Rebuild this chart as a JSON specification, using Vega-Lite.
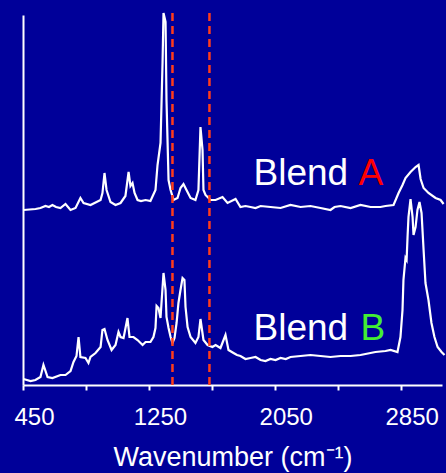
{
  "$schema": "https://vega.github.io/schema/vega-lite/v6.json",
  "autosize": "none",
  "width": 419,
  "height": 370,
  "padding": {"left": 23, "top": 15, "right": 4, "bottom": 88},
  "background": "#000099",
  "config": {"view": {"stroke": null}, "font": "Liberation Sans"},
  "datasets": {
    "spectra": [
      {"series": "A", "wavenumber": 453, "intensity": 175},
      {"series": "A", "wavenumber": 530, "intensity": 176},
      {"series": "A", "wavenumber": 561, "intensity": 177},
      {"series": "A", "wavenumber": 593, "intensity": 179},
      {"series": "A", "wavenumber": 615, "intensity": 178},
      {"series": "A", "wavenumber": 637, "intensity": 180},
      {"series": "A", "wavenumber": 660, "intensity": 178},
      {"series": "A", "wavenumber": 688, "intensity": 177},
      {"series": "A", "wavenumber": 720, "intensity": 181},
      {"series": "A", "wavenumber": 752, "intensity": 175},
      {"series": "A", "wavenumber": 784, "intensity": 177},
      {"series": "A", "wavenumber": 815, "intensity": 187},
      {"series": "A", "wavenumber": 835, "intensity": 182},
      {"series": "A", "wavenumber": 879, "intensity": 180},
      {"series": "A", "wavenumber": 943, "intensity": 185},
      {"series": "A", "wavenumber": 955, "intensity": 192},
      {"series": "A", "wavenumber": 968, "intensity": 212},
      {"series": "A", "wavenumber": 981, "intensity": 195},
      {"series": "A", "wavenumber": 1006, "intensity": 183},
      {"series": "A", "wavenumber": 1038, "intensity": 180},
      {"series": "A", "wavenumber": 1070, "intensity": 182},
      {"series": "A", "wavenumber": 1101, "intensity": 189},
      {"series": "A", "wavenumber": 1121, "intensity": 213},
      {"series": "A", "wavenumber": 1133, "intensity": 199},
      {"series": "A", "wavenumber": 1146, "intensity": 202},
      {"series": "A", "wavenumber": 1159, "intensity": 192},
      {"series": "A", "wavenumber": 1178, "intensity": 185},
      {"series": "A", "wavenumber": 1200, "intensity": 184},
      {"series": "A", "wavenumber": 1229, "intensity": 185},
      {"series": "A", "wavenumber": 1260, "intensity": 184},
      {"series": "A", "wavenumber": 1292, "intensity": 195},
      {"series": "A", "wavenumber": 1305, "intensity": 220},
      {"series": "A", "wavenumber": 1324, "intensity": 242},
      {"series": "A", "wavenumber": 1337, "intensity": 323},
      {"series": "A", "wavenumber": 1343, "intensity": 372},
      {"series": "A", "wavenumber": 1356, "intensity": 363},
      {"series": "A", "wavenumber": 1362, "intensity": 285},
      {"series": "A", "wavenumber": 1375, "intensity": 205},
      {"series": "A", "wavenumber": 1388, "intensity": 195},
      {"series": "A", "wavenumber": 1407, "intensity": 185},
      {"series": "A", "wavenumber": 1432, "intensity": 187},
      {"series": "A", "wavenumber": 1451, "intensity": 197},
      {"series": "A", "wavenumber": 1470, "intensity": 201},
      {"series": "A", "wavenumber": 1489, "intensity": 195},
      {"series": "A", "wavenumber": 1515, "intensity": 187},
      {"series": "A", "wavenumber": 1546, "intensity": 185},
      {"series": "A", "wavenumber": 1565, "intensity": 195},
      {"series": "A", "wavenumber": 1578, "intensity": 258},
      {"series": "A", "wavenumber": 1591, "intensity": 235},
      {"series": "A", "wavenumber": 1597, "intensity": 195},
      {"series": "A", "wavenumber": 1610, "intensity": 190},
      {"series": "A", "wavenumber": 1642, "intensity": 185},
      {"series": "A", "wavenumber": 1674, "intensity": 185},
      {"series": "A", "wavenumber": 1718, "intensity": 188},
      {"series": "A", "wavenumber": 1750, "intensity": 182},
      {"series": "A", "wavenumber": 1801, "intensity": 186},
      {"series": "A", "wavenumber": 1832, "intensity": 178},
      {"series": "A", "wavenumber": 1864, "intensity": 179},
      {"series": "A", "wavenumber": 1896, "intensity": 178},
      {"series": "A", "wavenumber": 1928, "intensity": 177},
      {"series": "A", "wavenumber": 1960, "intensity": 179},
      {"series": "A", "wavenumber": 2023, "intensity": 178},
      {"series": "A", "wavenumber": 2087, "intensity": 177},
      {"series": "A", "wavenumber": 2150, "intensity": 180},
      {"series": "A", "wavenumber": 2214, "intensity": 178},
      {"series": "A", "wavenumber": 2277, "intensity": 179},
      {"series": "A", "wavenumber": 2341, "intensity": 177},
      {"series": "A", "wavenumber": 2404, "intensity": 175},
      {"series": "A", "wavenumber": 2430, "intensity": 178},
      {"series": "A", "wavenumber": 2468, "intensity": 179},
      {"series": "A", "wavenumber": 2532, "intensity": 177},
      {"series": "A", "wavenumber": 2595, "intensity": 180},
      {"series": "A", "wavenumber": 2659, "intensity": 178},
      {"series": "A", "wavenumber": 2722, "intensity": 178},
      {"series": "A", "wavenumber": 2754, "intensity": 179},
      {"series": "A", "wavenumber": 2805, "intensity": 180},
      {"series": "A", "wavenumber": 2837, "intensity": 192},
      {"series": "A", "wavenumber": 2862, "intensity": 200},
      {"series": "A", "wavenumber": 2881, "intensity": 207},
      {"series": "A", "wavenumber": 2913, "intensity": 213},
      {"series": "A", "wavenumber": 2945, "intensity": 218},
      {"series": "A", "wavenumber": 2964, "intensity": 220},
      {"series": "A", "wavenumber": 2977, "intensity": 206},
      {"series": "A", "wavenumber": 2996, "intensity": 197},
      {"series": "A", "wavenumber": 3027, "intensity": 192},
      {"series": "A", "wavenumber": 3072, "intensity": 187},
      {"series": "A", "wavenumber": 3104, "intensity": 185},
      {"series": "A", "wavenumber": 3123, "intensity": 181},
      {"series": "B", "wavenumber": 453, "intensity": 6},
      {"series": "B", "wavenumber": 498, "intensity": 4},
      {"series": "B", "wavenumber": 529, "intensity": 5},
      {"series": "B", "wavenumber": 561, "intensity": 8},
      {"series": "B", "wavenumber": 580, "intensity": 20},
      {"series": "B", "wavenumber": 606, "intensity": 8},
      {"series": "B", "wavenumber": 637, "intensity": 7},
      {"series": "B", "wavenumber": 688, "intensity": 10},
      {"series": "B", "wavenumber": 720, "intensity": 10},
      {"series": "B", "wavenumber": 752, "intensity": 14},
      {"series": "B", "wavenumber": 771, "intensity": 23},
      {"series": "B", "wavenumber": 790, "intensity": 29},
      {"series": "B", "wavenumber": 803, "intensity": 48},
      {"series": "B", "wavenumber": 815, "intensity": 28},
      {"series": "B", "wavenumber": 847, "intensity": 27},
      {"series": "B", "wavenumber": 866, "intensity": 22},
      {"series": "B", "wavenumber": 879, "intensity": 28},
      {"series": "B", "wavenumber": 911, "intensity": 32},
      {"series": "B", "wavenumber": 943, "intensity": 38},
      {"series": "B", "wavenumber": 955, "intensity": 55},
      {"series": "B", "wavenumber": 968, "intensity": 56},
      {"series": "B", "wavenumber": 987, "intensity": 45},
      {"series": "B", "wavenumber": 1013, "intensity": 35},
      {"series": "B", "wavenumber": 1038, "intensity": 40},
      {"series": "B", "wavenumber": 1057, "intensity": 53},
      {"series": "B", "wavenumber": 1070, "intensity": 48},
      {"series": "B", "wavenumber": 1089, "intensity": 47},
      {"series": "B", "wavenumber": 1114, "intensity": 67},
      {"series": "B", "wavenumber": 1127, "intensity": 48},
      {"series": "B", "wavenumber": 1152, "intensity": 48},
      {"series": "B", "wavenumber": 1178, "intensity": 45},
      {"series": "B", "wavenumber": 1210, "intensity": 40},
      {"series": "B", "wavenumber": 1229, "intensity": 43},
      {"series": "B", "wavenumber": 1260, "intensity": 43},
      {"series": "B", "wavenumber": 1279, "intensity": 48},
      {"series": "B", "wavenumber": 1292, "intensity": 57},
      {"series": "B", "wavenumber": 1299, "intensity": 79},
      {"series": "B", "wavenumber": 1311, "intensity": 77},
      {"series": "B", "wavenumber": 1324, "intensity": 67},
      {"series": "B", "wavenumber": 1343, "intensity": 112},
      {"series": "B", "wavenumber": 1356, "intensity": 95},
      {"series": "B", "wavenumber": 1362, "intensity": 68},
      {"series": "B", "wavenumber": 1375, "intensity": 57},
      {"series": "B", "wavenumber": 1388, "intensity": 48},
      {"series": "B", "wavenumber": 1400, "intensity": 42},
      {"series": "B", "wavenumber": 1413, "intensity": 47},
      {"series": "B", "wavenumber": 1426, "intensity": 62},
      {"series": "B", "wavenumber": 1438, "intensity": 82},
      {"series": "B", "wavenumber": 1451, "intensity": 95},
      {"series": "B", "wavenumber": 1464, "intensity": 107},
      {"series": "B", "wavenumber": 1476, "intensity": 105},
      {"series": "B", "wavenumber": 1483, "intensity": 78},
      {"series": "B", "wavenumber": 1496, "intensity": 58},
      {"series": "B", "wavenumber": 1515, "intensity": 48},
      {"series": "B", "wavenumber": 1546, "intensity": 42},
      {"series": "B", "wavenumber": 1565, "intensity": 48},
      {"series": "B", "wavenumber": 1578, "intensity": 66},
      {"series": "B", "wavenumber": 1597, "intensity": 45},
      {"series": "B", "wavenumber": 1623, "intensity": 40},
      {"series": "B", "wavenumber": 1654, "intensity": 38},
      {"series": "B", "wavenumber": 1674, "intensity": 40},
      {"series": "B", "wavenumber": 1705, "intensity": 37},
      {"series": "B", "wavenumber": 1737, "intensity": 50},
      {"series": "B", "wavenumber": 1756, "intensity": 35},
      {"series": "B", "wavenumber": 1788, "intensity": 32},
      {"series": "B", "wavenumber": 1810, "intensity": 30},
      {"series": "B", "wavenumber": 1832, "intensity": 29},
      {"series": "B", "wavenumber": 1864, "intensity": 26},
      {"series": "B", "wavenumber": 1896, "intensity": 27},
      {"series": "B", "wavenumber": 1928, "intensity": 28},
      {"series": "B", "wavenumber": 1960, "intensity": 25},
      {"series": "B", "wavenumber": 1991, "intensity": 24},
      {"series": "B", "wavenumber": 2023, "intensity": 26},
      {"series": "B", "wavenumber": 2055, "intensity": 25},
      {"series": "B", "wavenumber": 2087, "intensity": 27},
      {"series": "B", "wavenumber": 2120, "intensity": 26},
      {"series": "B", "wavenumber": 2150, "intensity": 28},
      {"series": "B", "wavenumber": 2214, "intensity": 29},
      {"series": "B", "wavenumber": 2277, "intensity": 30},
      {"series": "B", "wavenumber": 2341, "intensity": 29},
      {"series": "B", "wavenumber": 2404, "intensity": 28},
      {"series": "B", "wavenumber": 2468, "intensity": 29},
      {"series": "B", "wavenumber": 2532, "intensity": 29},
      {"series": "B", "wavenumber": 2595, "intensity": 30},
      {"series": "B", "wavenumber": 2627, "intensity": 31},
      {"series": "B", "wavenumber": 2690, "intensity": 33},
      {"series": "B", "wavenumber": 2754, "intensity": 34},
      {"series": "B", "wavenumber": 2786, "intensity": 35},
      {"series": "B", "wavenumber": 2830, "intensity": 33},
      {"series": "B", "wavenumber": 2849, "intensity": 48},
      {"series": "B", "wavenumber": 2862, "intensity": 75},
      {"series": "B", "wavenumber": 2868, "intensity": 105},
      {"series": "B", "wavenumber": 2881, "intensity": 127},
      {"series": "B", "wavenumber": 2888, "intensity": 125},
      {"series": "B", "wavenumber": 2894, "intensity": 148},
      {"series": "B", "wavenumber": 2900, "intensity": 168},
      {"series": "B", "wavenumber": 2913, "intensity": 186},
      {"series": "B", "wavenumber": 2926, "intensity": 168},
      {"series": "B", "wavenumber": 2932, "intensity": 150},
      {"series": "B", "wavenumber": 2945, "intensity": 158},
      {"series": "B", "wavenumber": 2957, "intensity": 175},
      {"series": "B", "wavenumber": 2970, "intensity": 183},
      {"series": "B", "wavenumber": 2983, "intensity": 172},
      {"series": "B", "wavenumber": 2996, "intensity": 135},
      {"series": "B", "wavenumber": 3008, "intensity": 102},
      {"series": "B", "wavenumber": 3027, "intensity": 85},
      {"series": "B", "wavenumber": 3046, "intensity": 62},
      {"series": "B", "wavenumber": 3065, "intensity": 48},
      {"series": "B", "wavenumber": 3085, "intensity": 38},
      {"series": "B", "wavenumber": 3110, "intensity": 33},
      {"series": "B", "wavenumber": 3129, "intensity": 30}
    ],
    "markers": [
      {"wavenumber": 1400, "low": 0, "high": 373},
      {"wavenumber": 1635, "low": 0, "high": 373}
    ],
    "labels": [
      {"part": "Blend", "wavenumber": 1915, "intensity": 200},
      {"part": "A", "wavenumber": 2582, "intensity": 200},
      {"part": "Blend", "wavenumber": 1915, "intensity": 45},
      {"part": "B", "wavenumber": 2595, "intensity": 45}
    ]
  },
  "layer": [
    {
      "data": {"name": "spectra"},
      "mark": {"type": "line", "stroke": "white", "strokeWidth": 2.2, "strokeJoin": "miter"},
      "encoding": {
        "x": {
          "field": "wavenumber", "type": "quantitative",
          "scale": {"domain": [450, 3113], "nice": false, "zero": false},
          "axis": {
            "title": "Wavenumber (cm⁻¹)",
            "values": [450, 850, 1250, 1650, 2050, 2450, 2850],
            "labelExpr": "(datum.value - 450) % 800 == 0 ? datum.label : ''",
            "format": "d",
            "grid": false,
            "domainColor": "white", "domainWidth": 2,
            "tickColor": "white", "tickWidth": 2, "tickSize": 5,
            "labelColor": "white", "labelFontSize": 24, "labelFont": "Liberation Sans",
            "labelPadding": 15, "labelOffset": 11, "labelFlush": false, "labelOverlap": false,
            "titleColor": "white", "titleFontSize": 27, "titleFont": "Liberation Sans",
            "titleFontWeight": "normal", "titlePadding": 15
          }
        },
        "y": {
          "field": "intensity", "type": "quantitative",
          "scale": {"domain": [0, 370], "nice": false, "zero": false},
          "axis": {
            "title": null, "labels": false, "ticks": false, "grid": false,
            "domainColor": "white", "domainWidth": 2
          }
        },
        "detail": {"field": "series"}
      }
    },
    {
      "data": {"name": "markers"},
      "mark": {"type": "rule", "stroke": "#ff3c1a", "strokeWidth": 2.5, "strokeDash": [8, 5]},
      "encoding": {
        "x": {"field": "wavenumber", "type": "quantitative"},
        "y": {"field": "low", "type": "quantitative"},
        "y2": {"field": "high"}
      }
    },
    {
      "data": {"name": "labels"},
      "mark": {"type": "text", "align": "left", "baseline": "alphabetic", "fontSize": 37, "font": "Liberation Sans"},
      "encoding": {
        "x": {"field": "wavenumber", "type": "quantitative"},
        "y": {"field": "intensity", "type": "quantitative"},
        "text": {"field": "part"},
        "color": {
          "field": "part", "type": "nominal",
          "scale": {"domain": ["Blend", "A", "B"], "range": ["white", "#ff0000", "#44ee33"]},
          "legend": null
        }
      }
    }
  ]
}
